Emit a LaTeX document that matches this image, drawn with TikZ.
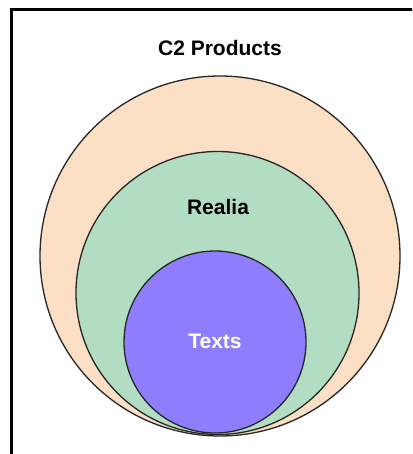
\documentclass[tikz,border=0pt]{standalone}
\usepackage{fontspec}
\setmainfont{Liberation Sans}
\definecolor{peach}{HTML}{FBDFC4}
\definecolor{mint}{HTML}{B2DDC2}
\definecolor{violet}{HTML}{8E7EFE}
\begin{document}
\begin{tikzpicture}[x=1pt,y=-1pt,
  ring/.style={circle,draw=black!85,line width=1.3pt,inner sep=0pt},
  lbl/.style={font=\bfseries\fontsize{21}{24}\selectfont,inner sep=0pt}]
\useasboundingbox (0,0) rectangle (412,454);
\clip (0,0) rectangle (412,454);
\draw[line width=3pt] (11.5,470) -- (11.5,9.5) -- (430,9.5);
\node[ring,fill=peach,minimum size=360pt] (outer) at (220,256) {};
\node[ring,fill=mint,minimum size=283pt] (mid) at (217.5,293) {};
\node[ring,fill=violet,minimum size=182pt] (inner) at (215,342) {};
\node[lbl] (t1) at (220,48) {C2 Products};
\node[lbl] (t2) at (218,207) {Realia};
\node[lbl,text=white] (t3) at (215,341) {Texts};
\end{tikzpicture}
\end{document}
